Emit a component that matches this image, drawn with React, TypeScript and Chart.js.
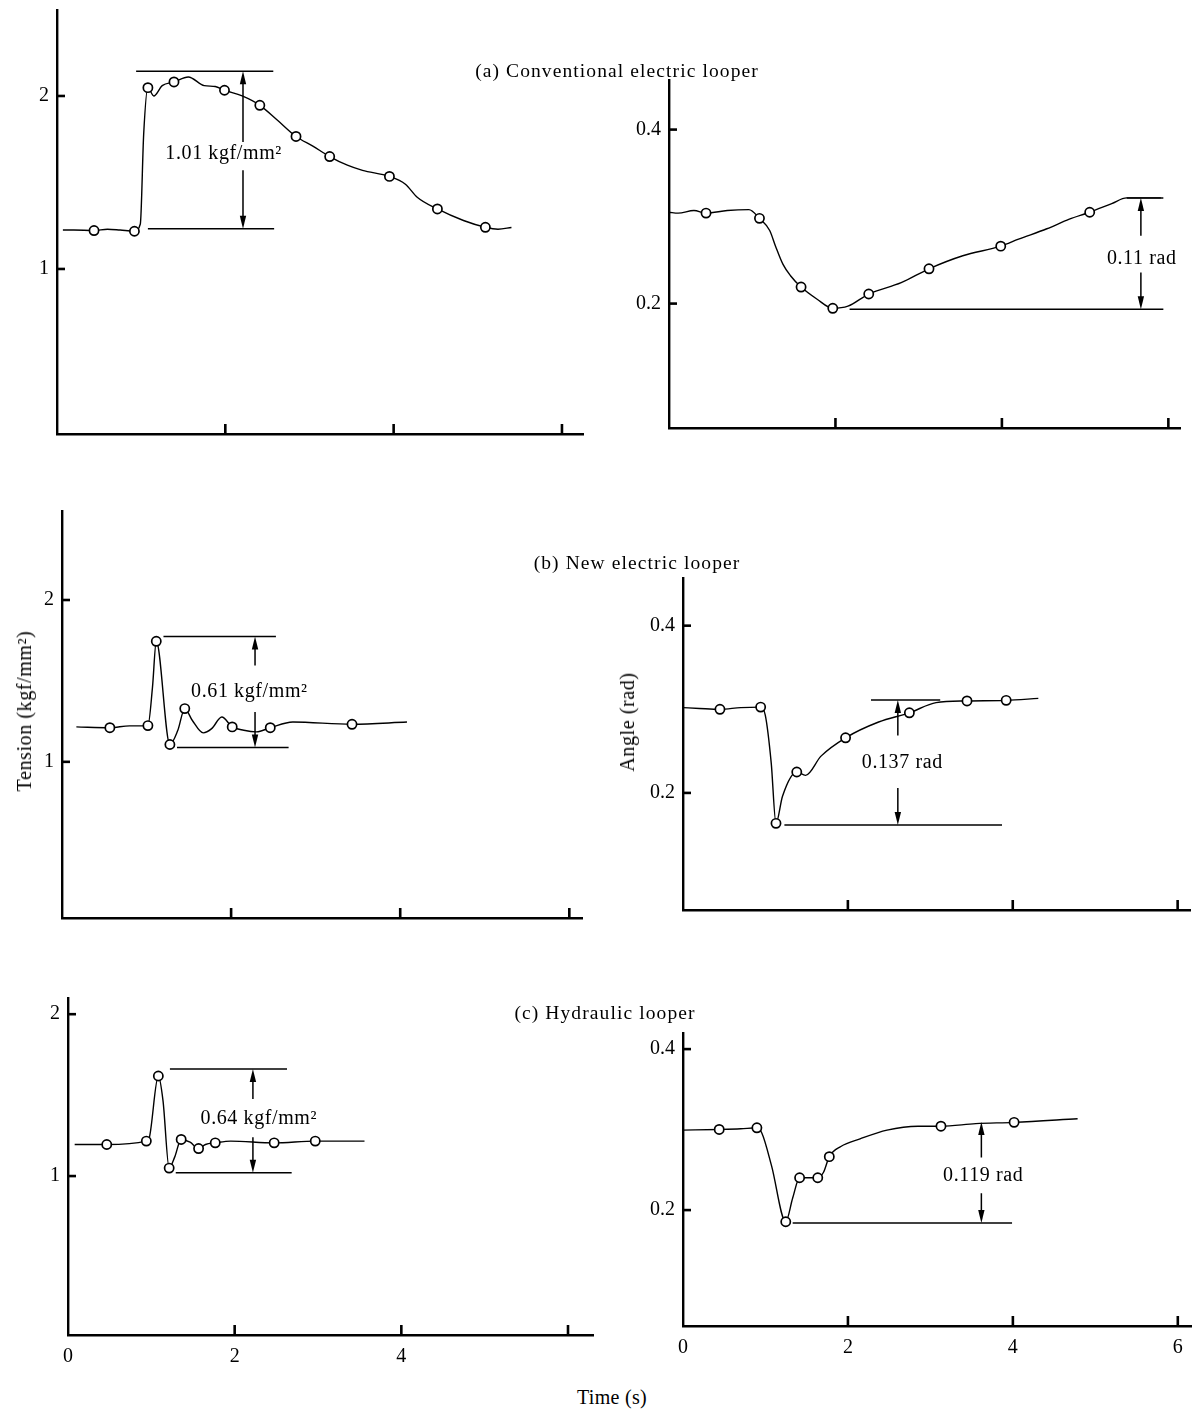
import React, { useEffect, useRef } from "react";
import { Chart, registerables } from "chart.js";

Chart.register(...registerables);

const SERIF = "'Liberation Serif', 'Times New Roman', Times, serif";

// ---------------- axis ticks ----------------
const tensionTicks = [1, 2];
const tensionTickLabels = ["1", "2"];
const angleTicks = [0.2, 0.4];
const angleTickLabels = ["0.2", "0.4"];
const timeMarks = [2, 4, 6];
const timeTicksBottomLeft = [0, 2, 4, 6];
const timeTickLabelsBottomLeft = ["0", "2", "4", ""];
const timeTicksBottomRight = [0, 2, 4, 6];
const timeTickLabelsBottomRight = ["0", "2", "4", "6"];

// ---------------- (a) Conventional electric looper ----------------
const tensionA_t = [0.07, 0.2, 0.44, 0.6, 0.75, 0.92, 0.99, 1.03, 1.08, 1.15, 1.25, 1.39, 1.56, 1.75, 1.88, 1.99, 2.2, 2.41, 2.62, 2.84, 3.04, 3.24, 3.45, 3.63, 3.95, 4.14, 4.28, 4.52, 4.83, 5.09, 5.24, 5.4];
const tensionA_v = [1.225, 1.225, 1.222, 1.23, 1.225, 1.218, 1.26, 1.78, 2.048, 2.0, 2.06, 2.081, 2.11, 2.06, 2.055, 2.033, 2.0, 1.946, 1.86, 1.766, 1.71, 1.65, 1.6, 1.57, 1.535, 1.49, 1.415, 1.347, 1.28, 1.241, 1.23, 1.24];
const tensionA_markT = [0.44, 0.92, 1.08, 1.39, 1.99, 2.41, 2.84, 3.24, 3.95, 4.52, 5.09];
const tensionA_markV = [1.222, 1.218, 2.048, 2.081, 2.033, 1.946, 1.766, 1.65, 1.535, 1.347, 1.241];
const tensionA_hLines = [[0.94, 2.57, 2.143], [1.08, 2.58, 1.232]];
const tensionA_arrow = [2.21, 2.143, 1.734, 1.57, 1.232];
const tensionA_label = "1.01 kgf/mm²";
const tensionA_labelPos = [1.98, 1.666];

const angleA_t = [0, 0.11, 0.3, 0.445, 0.7, 0.96, 1.087, 1.21, 1.28, 1.37, 1.46, 1.587, 1.78, 1.968, 2.15, 2.4, 2.79, 3.124, 3.53, 3.986, 4.2, 4.54, 4.81, 5.055, 5.32, 5.5, 5.91];
const angleA_v = [0.305, 0.304, 0.307, 0.304, 0.307, 0.308, 0.298, 0.284, 0.266, 0.245, 0.232, 0.219, 0.205, 0.1946, 0.197, 0.211, 0.224, 0.24, 0.255, 0.266, 0.274, 0.286, 0.297, 0.305, 0.315, 0.3215, 0.3215];
const angleA_markT = [0.445, 1.087, 1.587, 1.968, 2.4, 3.124, 3.986, 5.055];
const angleA_markV = [0.304, 0.298, 0.219, 0.1946, 0.211, 0.24, 0.266, 0.305];
const angleA_hLines = [[5.5, 5.94, 0.3215], [2.17, 5.94, 0.1935]];
const angleA_arrow = [5.67, 0.3215, 0.278, 0.2358, 0.1935];
const angleA_label = "0.11 rad";
const angleA_labelPos = [5.68, 0.251];

// ---------------- (b) New electric looper ----------------
const tensionB_t = [0.17, 0.566, 0.8, 1.016, 1.07, 1.115, 1.276, 1.37, 1.452, 1.54, 1.67, 1.77, 1.89, 2.013, 2.15, 2.3, 2.463, 2.73, 3.43, 4.08];
const tensionB_v = [1.216, 1.211, 1.222, 1.224, 1.46, 1.745, 1.107, 1.195, 1.329, 1.257, 1.179, 1.205, 1.277, 1.216, 1.195, 1.185, 1.211, 1.246, 1.232, 1.246];
const tensionB_markT = [0.566, 1.016, 1.115, 1.276, 1.452, 2.013, 2.463, 3.43];
const tensionB_markV = [1.211, 1.224, 1.745, 1.107, 1.329, 1.216, 1.211, 1.232];
const tensionB_hLines = [[1.2, 2.53, 1.774], [1.36, 2.68, 1.088]];
const tensionB_arrow = [2.283, 1.774, 1.595, 1.308, 1.088];
const tensionB_label = "0.61 kgf/mm²";
const tensionB_labelPos = [2.216, 1.431];

const angleB_t = [0, 0.2, 0.448, 0.7, 0.942, 0.998, 1.07, 1.128, 1.207, 1.38, 1.487, 1.674, 1.972, 2.373, 2.746, 3.07, 3.445, 3.92, 4.31];
const angleB_v = [0.302, 0.301, 0.3, 0.302, 0.3026, 0.293, 0.236, 0.1636, 0.196, 0.225, 0.221, 0.244, 0.2659, 0.2848, 0.2958, 0.308, 0.31, 0.3107, 0.313];
const angleB_markT = [0.448, 0.942, 1.128, 1.38, 1.972, 2.746, 3.445, 3.92];
const angleB_markV = [0.3, 0.3026, 0.1636, 0.225, 0.2659, 0.2958, 0.31, 0.3107];
const angleB_hLines = [[2.28, 3.12, 0.311], [1.23, 3.87, 0.1616]];
const angleB_arrow = [2.606, 0.311, 0.2687, 0.206, 0.1616];
const angleB_label = "0.137 rad";
const angleB_labelPos = [2.66, 0.236];

// ---------------- (c) Hydraulic looper ----------------
const tensionC_t = [0.08, 0.465, 0.94, 0.977, 1.084, 1.14, 1.214, 1.28, 1.358, 1.465, 1.567, 1.65, 1.767, 1.953, 2.474, 2.967, 3.558];
const tensionC_v = [1.195, 1.195, 1.216, 1.24, 1.618, 1.466, 1.049, 1.117, 1.226, 1.209, 1.17, 1.195, 1.205, 1.216, 1.205, 1.216, 1.216];
const tensionC_markT = [0.465, 0.94, 1.084, 1.214, 1.358, 1.567, 1.767, 2.474, 2.967];
const tensionC_markV = [1.195, 1.216, 1.618, 1.049, 1.226, 1.17, 1.205, 1.205, 1.216];
const tensionC_hLines = [[1.223, 2.628, 1.661], [1.293, 2.684, 1.0205]];
const tensionC_arrow = [2.219, 1.661, 1.476, 1.24, 1.0205];
const tensionC_label = "0.64 kgf/mm²";
const tensionC_labelPos = [2.29, 1.353];

const angleC_t = [0, 0.439, 0.7, 0.896, 0.957, 1.074, 1.246, 1.33, 1.414, 1.634, 1.704, 1.774, 1.914, 2.147, 2.474, 2.85, 3.128, 3.55, 4.015, 4.785];
const angleC_v = [0.2994, 0.3002, 0.301, 0.3022, 0.2954, 0.255, 0.1855, 0.215, 0.2402, 0.2402, 0.247, 0.2664, 0.279, 0.2885, 0.2994, 0.3042, 0.3042, 0.3074, 0.309, 0.3135];
const angleC_markT = [0.439, 0.896, 1.246, 1.414, 1.634, 1.774, 3.128, 4.015];
const angleC_markV = [0.3002, 0.3022, 0.1855, 0.2402, 0.2402, 0.2664, 0.3042, 0.309];
const angleC_hLines = [[1.33, 3.99, 0.184]];
const angleC_arrow = [3.618, 0.3095, 0.2652, 0.2209, 0.184];
const angleC_label = "0.119 rad";
const angleC_labelPos = [3.64, 0.243];

// ---------------- layout ----------------
const YW = 60; // y-axis box width
const XH = 40; // x-axis box height
const PT = 22; // top padding
const PR = 22; // right padding

type PanelDef = {
  rect: number[]; // left, top, right, bottom (page px of plot area)
  xMax: number;
  yMin: number;
  yMax: number;
  curveT: number[];
  curveV: number[];
  markT: number[];
  markV: number[];
  hLines: number[][];
  arrow: number[];
  label: string;
  labelPos: number[];
  yTicks: number[];
  yTickLabels: string[];
  xTicks: number[];
  xTickLabels: string[];
  showX: boolean;
};

const panels: PanelDef[] = [
  {
    rect: [57, 10, 583, 434], xMax: 6.25, yMin: 0.046, yMax: 2.497,
    curveT: tensionA_t, curveV: tensionA_v, markT: tensionA_markT, markV: tensionA_markV,
    hLines: tensionA_hLines, arrow: tensionA_arrow, label: tensionA_label, labelPos: tensionA_labelPos,
    yTicks: tensionTicks, yTickLabels: tensionTickLabels, xTicks: timeMarks, xTickLabels: ["", "", ""], showX: false,
  },
  {
    rect: [669, 80, 1180, 428], xMax: 6.14, yMin: 0.057, yMax: 0.457,
    curveT: angleA_t, curveV: angleA_v, markT: angleA_markT, markV: angleA_markV,
    hLines: angleA_hLines, arrow: angleA_arrow, label: angleA_label, labelPos: angleA_labelPos,
    yTicks: angleTicks, yTickLabels: angleTickLabels, xTicks: timeMarks, xTickLabels: ["", "", ""], showX: false,
  },
  {
    rect: [62, 511, 582, 918], xMax: 6.15, yMin: 0.035, yMax: 2.55,
    curveT: tensionB_t, curveV: tensionB_v, markT: tensionB_markT, markV: tensionB_markV,
    hLines: tensionB_hLines, arrow: tensionB_arrow, label: tensionB_label, labelPos: tensionB_labelPos,
    yTicks: tensionTicks, yTickLabels: tensionTickLabels, xTicks: timeMarks, xTickLabels: ["", "", ""], showX: false,
  },
  {
    rect: [683, 578, 1190, 910], xMax: 6.15, yMin: 0.06, yMax: 0.457,
    curveT: angleB_t, curveV: angleB_v, markT: angleB_markT, markV: angleB_markV,
    hLines: angleB_hLines, arrow: angleB_arrow, label: angleB_label, labelPos: angleB_labelPos,
    yTicks: angleTicks, yTickLabels: angleTickLabels, xTicks: timeMarks, xTickLabels: ["", "", ""], showX: false,
  },
  {
    rect: [68, 998, 593, 1335], xMax: 6.3, yMin: 0.018, yMax: 2.1,
    curveT: tensionC_t, curveV: tensionC_v, markT: tensionC_markT, markV: tensionC_markV,
    hLines: tensionC_hLines, arrow: tensionC_arrow, label: tensionC_label, labelPos: tensionC_labelPos,
    yTicks: tensionTicks, yTickLabels: tensionTickLabels, xTicks: timeTicksBottomLeft, xTickLabels: timeTickLabelsBottomLeft, showX: true,
  },
  {
    rect: [683, 1033, 1191, 1326], xMax: 6.16, yMin: 0.056, yMax: 0.42,
    curveT: angleC_t, curveV: angleC_v, markT: angleC_markT, markV: angleC_markV,
    hLines: angleC_hLines, arrow: angleC_arrow, label: angleC_label, labelPos: angleC_labelPos,
    yTicks: angleTicks, yTickLabels: angleTickLabels, xTicks: timeTicksBottomRight, xTickLabels: timeTickLabelsBottomRight, showX: true,
  },
];

function arrowHead(ctx: CanvasRenderingContext2D, x: number, tipY: number, dir: number) {
  // dir = -1 points up, +1 points down
  const len = 13;
  const hw = 3.2;
  ctx.beginPath();
  ctx.moveTo(x, tipY);
  ctx.lineTo(x - hw, tipY - dir * len);
  ctx.lineTo(x + hw, tipY - dir * len);
  ctx.closePath();
  ctx.fill();
}

const decorPlugin = {
  id: "decor",
  beforeDatasetsDraw(chart: any, _args: any, opts: any) {
    const { ctx, chartArea, scales } = chart;
    const x = scales.x;
    const y = scales.y;
    ctx.save();
    ctx.strokeStyle = "#000";
    ctx.fillStyle = "#000";
    ctx.lineCap = "butt";
    // inward tick marks
    ctx.lineWidth = 2.6;
    (opts.yTicks as number[]).forEach((v) => {
      const py = y.getPixelForValue(v);
      ctx.beginPath();
      ctx.moveTo(chartArea.left, py);
      ctx.lineTo(chartArea.left + 8, py);
      ctx.stroke();
    });
    (opts.xMarks as number[]).forEach((v) => {
      const px = x.getPixelForValue(v);
      ctx.beginPath();
      ctx.moveTo(px, chartArea.bottom);
      ctx.lineTo(px, chartArea.bottom - 10);
      ctx.stroke();
    });
    // horizontal reference lines
    ctx.lineWidth = 1.5;
    (opts.hLines as number[][]).forEach(([t1, t2, v]) => {
      const py = y.getPixelForValue(v);
      ctx.beginPath();
      ctx.moveTo(x.getPixelForValue(t1), py);
      ctx.lineTo(x.getPixelForValue(t2), py);
      ctx.stroke();
    });
    // double arrow with gap for the label
    const [at, vTop, vTopEnd, vBotStart, vBot] = opts.arrow as number[];
    const ax = x.getPixelForValue(at);
    const yTop = y.getPixelForValue(vTop);
    const yTopEnd = y.getPixelForValue(vTopEnd);
    const yBotStart = y.getPixelForValue(vBotStart);
    const yBot = y.getPixelForValue(vBot);
    ctx.lineWidth = 1.5;
    ctx.beginPath();
    ctx.moveTo(ax, yTop + 6);
    ctx.lineTo(ax, yTopEnd);
    ctx.moveTo(ax, yBotStart);
    ctx.lineTo(ax, yBot - 6);
    ctx.stroke();
    arrowHead(ctx, ax, yTop, -1);
    arrowHead(ctx, ax, yBot, 1);
    // label
    ctx.font = `20px ${SERIF}`;
    try {
      (ctx as any).letterSpacing = "0.6px";
    } catch (e) {}
    ctx.textAlign = "center";
    ctx.textBaseline = "middle";
    ctx.fillText(opts.label, x.getPixelForValue(opts.labelPos[0]), y.getPixelForValue(opts.labelPos[1]));
    ctx.restore();
  },
};

function Panel({ def }: { def: PanelDef }) {
  const ref = useRef<HTMLCanvasElement | null>(null);
  const [L, T, R, B] = def.rect;
  const width = R - L + YW + PR;
  const height = B - T + PT + XH;

  useEffect(() => {
    if (!ref.current) return;
    const curve = def.curveT.map((t, i) => ({ x: t, y: def.curveV[i] }));
    const marks = def.markT.map((t, i) => ({ x: t, y: def.markV[i] }));
    const chart = new Chart(ref.current, {
      type: "line",
      data: {
        datasets: [
          {
            data: marks,
            showLine: false,
            pointRadius: 4.6,
            pointStyle: "circle",
            pointBackgroundColor: "#fff",
            pointBorderColor: "#000",
            pointBorderWidth: 1.7,
            order: 0,
          },
          {
            data: curve,
            borderColor: "#000",
            borderWidth: 1.4,
            pointRadius: 0,
            cubicInterpolationMode: "monotone",
            fill: false,
            order: 1,
          },
        ],
      },
      options: {
        animation: false,
        responsive: false,
        maintainAspectRatio: false,
        events: [],
        layout: { padding: { top: PT, right: PR, left: 0, bottom: 0 } },
        plugins: {
          legend: { display: false },
          tooltip: { enabled: false },
          decor: {
            yTicks: def.yTicks,
            xMarks: timeMarks,
            hLines: def.hLines,
            arrow: def.arrow,
            label: def.label,
            labelPos: def.labelPos,
          },
        } as any,
        scales: {
          x: {
            type: "linear",
            min: 0,
            max: def.xMax,
            grid: { display: false, drawTicks: false },
            border: { display: true, color: "#000", width: 2.4 },
            ticks: {
              display: def.showX,
              color: "#000",
              font: { family: SERIF, size: 20 },
              padding: 10,
              maxRotation: 0,
              autoSkip: false,
              callback: (v: any) => {
                const i = def.xTicks.indexOf(Number(v));
                return i >= 0 ? def.xTickLabels[i] : "";
              },
            },
            afterBuildTicks: (s: any) => {
              s.ticks = def.xTicks.map((v) => ({ value: v }));
            },
            afterFit: (s: any) => {
              s.height = XH;
            },
          },
          y: {
            type: "linear",
            min: def.yMin,
            max: def.yMax,
            grid: { display: false, drawTicks: false },
            border: { display: true, color: "#000", width: 2.4 },
            ticks: {
              color: "#000",
              font: { family: SERIF, size: 20 },
              padding: 8,
              autoSkip: false,
              callback: (v: any) => {
                const i = def.yTicks.findIndex((t) => Math.abs(t - Number(v)) < 1e-9);
                return i >= 0 ? def.yTickLabels[i] : "";
              },
            },
            afterBuildTicks: (s: any) => {
              s.ticks = def.yTicks.map((v) => ({ value: v }));
            },
            afterFit: (s: any) => {
              s.width = YW;
            },
          },
        },
      } as any,
      plugins: [decorPlugin as any],
    });
    return () => chart.destroy();
  }, [def]);

  return (
    <canvas
      ref={ref}
      width={width}
      height={height}
      style={{ position: "absolute", left: L - YW, top: T - PT, width, height }}
    />
  );
}

const textBase: React.CSSProperties = {
  position: "absolute",
  fontFamily: SERIF,
  color: "#000",
  whiteSpace: "nowrap",
  lineHeight: 1,
};

function Label({ text, x, y, size, spacing = 0, rotate = false }: { text: string; x: number; y: number; size: number; spacing?: number; rotate?: boolean }) {
  return (
    <div
      style={{
        ...textBase,
        left: x,
        top: y,
        fontSize: size,
        letterSpacing: spacing,
        transform: `translate(-50%, -50%)${rotate ? " rotate(-90deg)" : ""}`,
      }}
    >
      {text}
    </div>
  );
}

export default function App() {
  return (
    <div style={{ position: "absolute", left: 0, top: 0, width: 1194, height: 1409, background: "#fff", overflow: "hidden" }}>
      {panels.map((p, i) => (
        <Panel key={i} def={p} />
      ))}
      <Label text="(a)  Conventional  electric  looper" x={617} y={71} size={19.5} spacing={1.1} />
      <Label text="(b)  New  electric  looper" x={637} y={563} size={19.5} spacing={1.1} />
      <Label text="(c)  Hydraulic  looper" x={605} y={1013} size={19.5} spacing={1.1} />
      <Label text="Tension (kgf/mm²)" x={24} y={711} size={20} spacing={0.6} rotate />
      <Label text="Angle (rad)" x={627} y={722} size={20} spacing={0.6} rotate />
      <Label text="Time (s)" x={612} y={1397} size={20} spacing={0.3} />
    </div>
  );
}
